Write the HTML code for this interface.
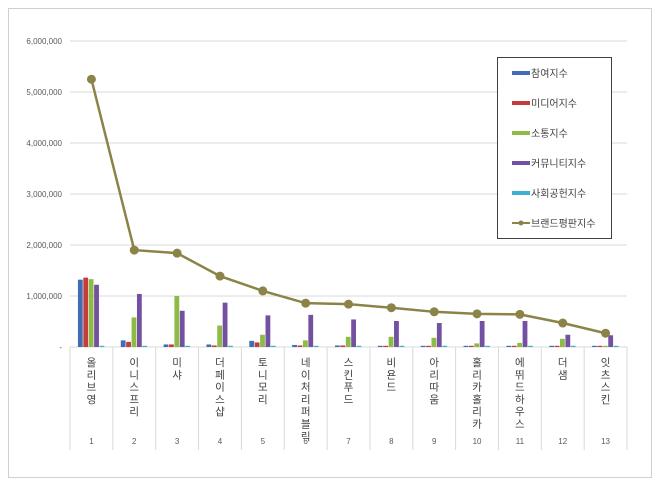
<!DOCTYPE html><html><head><meta charset="utf-8"><style>
body{margin:0;background:#fff;width:660px;height:484px;overflow:hidden}
svg text{font-family:"Liberation Sans","Noto Sans CJK KR",sans-serif}
</style></head><body>
<svg width="660" height="484" xmlns="http://www.w3.org/2000/svg" id="s">
<rect x="8.5" y="8.5" width="643" height="469" fill="#fff" stroke="#d0d0d0"/>
<g id="g"></g>
</svg>
<script>
const g=document.getElementById('g');let h='';
const y0=347,k=51,x0=70,cw=(627-70)/13;
for(let i=0;i<=6;i++){const y=y0-i*k;h+=`<line x1="${x0}" x2="627" y1="${y}" y2="${y}" stroke="#d9d9d9"/>`;
h+=`<text x="62" y="${y+3}" font-size="8" fill="#595959" text-anchor="end">${i?i+',000,000':'-'}</text>`}
for(let i=0;i<=13;i++){const x=x0+i*cw;h+=`<line x1="${x}" x2="${x}" y1="347" y2="450" stroke="#d9d9d9"/>`}
const names=['올리브영','이니스프리','미샤','더페이스샵','토니모리','네이처리퍼블릭','스킨푸드','비욘드','아리따움','홀리카홀리카','에뛰드하우스','더샘','잇츠스킨'];
const d=[[1.32,1.36,1.33,1.22],[.13,.1,.58,1.04],[.05,.05,1,.71],[.05,.03,.42,.87],[.12,.09,.24,.62],[.04,.03,.13,.63],[.03,.03,.2,.54],[.02,.02,.2,.51],[.02,.02,.18,.47],[.02,.01,.07,.51],[.01,.01,.08,.51],[.02,.01,.16,.24],[.01,.01,.02,.23]];
const br=[5.25,1.9,1.84,1.39,1.1,.86,.84,.77,.69,.65,.64,.47,.27];
const cols=['#3f6eb5','#c63b3b','#8dbb45','#7450a0','#3cb0cf'];
let pts=[];
d.forEach((r,i)=>{const cx=x0+i*cw+cw/2;const bw=5.4;const sx=cx-bw*2.5;
[...r,.01].forEach((v,j)=>{const hh=Math.max(v*k,1.2);h+=`<rect x="${sx+j*bw}" y="${y0-hh}" width="${bw-0.6}" height="${hh}" fill="${cols[j]}"/>`});
pts.push(`${cx},${y0-br[i]*k}`);
[...names[i]].forEach((c,j)=>{h+=`<text x="${cx}" y="${366+j*12.3}" font-size="10.5" fill="#404040" text-anchor="middle">${c}</text>`});
h+=`<text x="${cx}" y="444" font-size="8" fill="#595959" text-anchor="middle">${i+1}</text>`});
h+=`<polyline points="${pts.join(' ')}" fill="none" stroke="#8c8348" stroke-width="2.5"/>`;
pts.forEach(p=>{const[a,b]=p.split(',');h+=`<circle cx="${a}" cy="${b}" r="4.5" fill="#8c8348"/>`});
h+=`<rect x="497.5" y="57.5" width="114" height="181" fill="#fff" stroke="#404040"/>`;
const ln=['참여지수','미디어지수','소통지수','커뮤니티지수','사회공헌지수','브랜드평판지수'];
ln.forEach((t,i)=>{const y=73+i*30;
if(i<5)h+=`<rect x="512" y="${y-2}" width="18" height="4" fill="${cols[i]}"/>`;
else h+=`<line x1="512" x2="530" y1="${y}" y2="${y}" stroke="#8c8348" stroke-width="2"/><circle cx="521" cy="${y}" r="2.5" fill="#8c8348"/>`;
h+=`<text x="531" y="${y+4}" font-size="10" fill="#404040">${t}</text>`});
g.innerHTML=h;
</script>
</body></html>
